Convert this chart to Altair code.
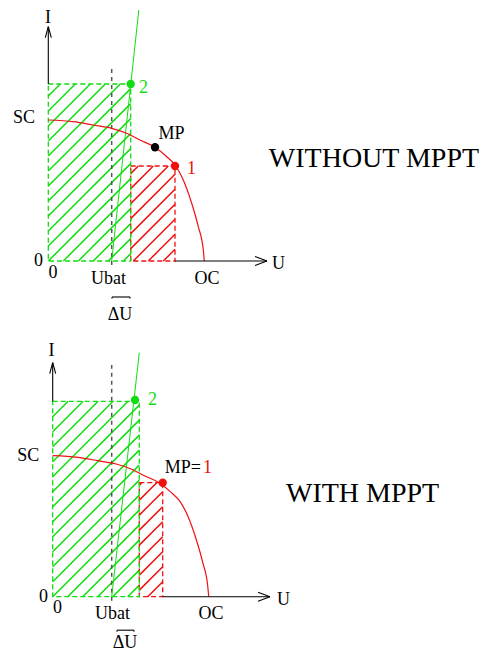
import math
import altair as alt
import pandas as pd

# ---- shared I-V characteristic of the PV module (drawing units: U right, I up) ----
CURVE_U = [0, 25, 45, 63.4, 78.4, 91.7, 106.7, 118.4, 126.7, 135, 143.4, 150, 155, 156]
CURVE_I = [141, 139.3, 136, 132.7, 127.7, 121, 113.7, 104.3, 96, 81, 57.7, 34.3, 11, 0]

# ---- per panel values: [WITHOUT MPPT, WITH MPPT] ----
PANEL_TITLE = ["WITHOUT MPPT", "WITH MPPT"]
UBAT = [63.4, 59.0]
UBAT_TOP = [195, 231.7]
LOAD_TOP_U = [90.5, 86.6]
LOAD_TOP_I = [251, 244]
P2_U = [82.4, 82.3]
P2_I = [177, 196.7]
GREEN_U = [82.4, 86.6]
GREEN_I = [177, 195.4]
RED_U = [126.7, 110.0]
RED_I = [95, 114]
MP_U = [106.7, 110.0]
MP_I = [113.7, 114]
U_TIP = [218.7, 217.3]
I_TIP = [234.3, 234.0]
DU_FROM = [63.7, 64.3]
DU_TO = [81.7, 81.3]
DU_LEVEL = [-36, -33.5]
RED_PHASE = [10, 5]

# view frames (drawing units, 1 unit = 1 px)
XDOM = [[-40.3, 431.7], [-44.7, 427.3]]
YDOM = [[-67, 253], [-54.3, 256.7]]
HEIGHT = [320, 311]
WIDTH = 472

# labels: text, u, i, colour, size, align, baseline
LABELS = [
    [
        ("I", -0.3, 238, "black", 18, "center", "alphabetic"),
        ("SC", -13.3, 143, "black", 18, "right", "middle"),
        ("0", -5.3, 0, "black", 18, "right", "middle"),
        ("0", 4.7, -17, "black", 18, "center", "alphabetic"),
        ("Ubat", 60.2, -23, "black", 18, "center", "alphabetic"),
        ("OC", 158.7, -23, "black", 18, "center", "alphabetic"),
        ("U", 223.7, -8, "black", 18, "left", "alphabetic"),
        ("ΔU", 71.7, -59, "black", 18, "center", "alphabetic"),
        ("2", 95.2, 168, "#11dd11", 18, "center", "alphabetic"),
        ("MP", 123.2, 122, "black", 18, "center", "alphabetic"),
        ("1", 138.7, 87, "#f01010", 18, "left", "alphabetic"),
        ("WITHOUT MPPT", 220.5, 94.3, "black", 28, "left", "alphabetic"),
    ],
    [
        ("I", -1.2, 240.7, "black", 18, "center", "alphabetic"),
        ("SC", -13.4, 141, "black", 18, "right", "middle"),
        ("0", -4.7, 0, "black", 18, "right", "middle"),
        ("0", 4.8, -16.3, "black", 18, "center", "alphabetic"),
        ("Ubat", 59.8, -22.3, "black", 18, "center", "alphabetic"),
        ("OC", 158.3, -22.3, "black", 18, "center", "alphabetic"),
        ("U", 224.3, -8.3, "black", 18, "left", "alphabetic"),
        ("ΔU", 72.3, -50.8, "black", 18, "center", "alphabetic"),
        ("2", 99.8, 191.7, "#11dd11", 18, "center", "alphabetic"),
        ("MP=", 148.3, 123.7, "black", 18, "right", "alphabetic"),
        ("1", 150.3, 123.7, "#f01010", 18, "left", "alphabetic"),
        ("WITH MPPT", 233.3, 94.7, "black", 28, "left", "alphabetic"),
    ],
]

GREEN = "#11dd11"
RED = "#f01010"
HATCH_STEP = 15


def hatch(u0, u1, i0, i1, step, phase):
    rows = []
    cmin, cmax = u0 - i1, u1 - i0
    c = phase + step * math.ceil((cmin - phase) / step)
    while c <= cmax:
        ia = max(i0, u0 - c)
        ib = min(i1, u1 - c)
        if ib - ia > 0.5:
            rows.append({"u": ia + c, "i": ia, "u2": ib + c, "i2": ib})
        c += step
    return pd.DataFrame(rows)


def panel(k):
    xs = alt.Scale(domain=XDOM[k], nice=False, zero=False)
    ys = alt.Scale(domain=YDOM[k], nice=False, zero=False)
    X = lambda f: alt.X(f, type="quantitative", scale=xs, axis=None)
    Y = lambda f: alt.Y(f, type="quantitative", scale=ys, axis=None)

    def seg(df, **kw):
        return alt.Chart(df).mark_rule(**kw).encode(
            x=X("u"), y=Y("i"), x2="u2", y2="i2")

    layers = []
    # hatching
    layers.append(seg(hatch(0, GREEN_U[k], 0, GREEN_I[k], HATCH_STEP, 0),
                      color=GREEN, strokeWidth=1.5))
    layers.append(seg(hatch(GREEN_U[k], RED_U[k], 0, RED_I[k], HATCH_STEP, RED_PHASE[k]),
                      color=RED, strokeWidth=1.5))
    # dashed rectangle borders
    rects = pd.DataFrame({
        "u": [GREEN_U[k], 0], "u2": [RED_U[k], GREEN_U[k]],
        "i": [0, 0], "i2": [RED_I[k], GREEN_I[k]],
        "c": [RED, GREEN]})
    layers.append(alt.Chart(rects).mark_rect(
        fillOpacity=0, strokeWidth=1.3, strokeDash=[5, 3]).encode(
        x=X("u"), x2="u2", y=Y("i"), y2="i2",
        stroke=alt.Stroke("c:N", scale=None)))
    # Ubat dashed line
    layers.append(seg(pd.DataFrame({"u": [UBAT[k]], "i": [-4], "u2": [UBAT[k]], "i2": [UBAT_TOP[k]]}),
                      color="#555555", strokeWidth=1.5, strokeDash=[4, 4]))
    # battery load line
    layers.append(seg(pd.DataFrame({"u": [UBAT[k]], "i": [0], "u2": [LOAD_TOP_U[k]], "i2": [LOAD_TOP_I[k]]}),
                      color=GREEN, strokeWidth=1))
    # I-V curve
    layers.append(alt.Chart(pd.DataFrame({"u": CURVE_U, "i": CURVE_I})).mark_line(
        color=RED, strokeWidth=1.2, interpolate="monotone").encode(x=X("u"), y=Y("i")))
    # axes with open arrow heads
    ut, it = U_TIP[k], I_TIP[k]
    axes = pd.DataFrame({
        "u": [0, RED_U[k], ut - 12, ut - 12, -3, 3],
        "i": [GREEN_I[k], 0, 4.5, -4.5, it - 11, it - 11],
        "u2": [0, ut, ut, ut, 0, 0],
        "i2": [it, 0, 0, 0, it, it]})
    layers.append(seg(axes, color="black", strokeWidth=1.1))
    # Delta U bar
    lv = DU_LEVEL[k]
    du = pd.DataFrame({
        "u": [DU_FROM[k], DU_FROM[k], DU_TO[k]],
        "i": [lv, lv, lv],
        "u2": [DU_TO[k], DU_FROM[k], DU_TO[k]],
        "i2": [lv, lv - 1.5, lv - 1.5]})
    layers.append(seg(du, color="black", strokeWidth=1.1))
    # operating points
    pts = [(P2_U[k], P2_I[k], GREEN), (RED_U[k], RED_I[k], RED)]
    if k == 0:
        pts.append((MP_U[k], MP_I[k], "black"))
    pdf = pd.DataFrame(pts, columns=["u", "i", "c"])
    layers.append(alt.Chart(pdf).mark_point(filled=True, opacity=1, size=70, strokeWidth=0).encode(
        x=X("u"), y=Y("i"), fill=alt.Fill("c:N", scale=None)))
    # labels
    ldf = pd.DataFrame(LABELS[k], columns=["t", "u", "i", "c", "s", "al", "bl"])
    for (al, bl), g in ldf.groupby(["al", "bl"]):
        layers.append(alt.Chart(g).mark_text(
            align=al, baseline=bl, font="Liberation Serif").encode(
            x=X("u"), y=Y("i"), text="t:N",
            color=alt.Color("c:N", scale=None),
            size=alt.Size("s:Q", scale=None)))
    return alt.layer(*layers).properties(width=WIDTH, height=HEIGHT[k])


chart = alt.vconcat(panel(0), panel(1), spacing=12, bounds="flush").properties(
    padding=0, background="white"
).configure_view(stroke=None)

chart.save("out.html", embed_options={"renderer": "svg", "actions": False})
